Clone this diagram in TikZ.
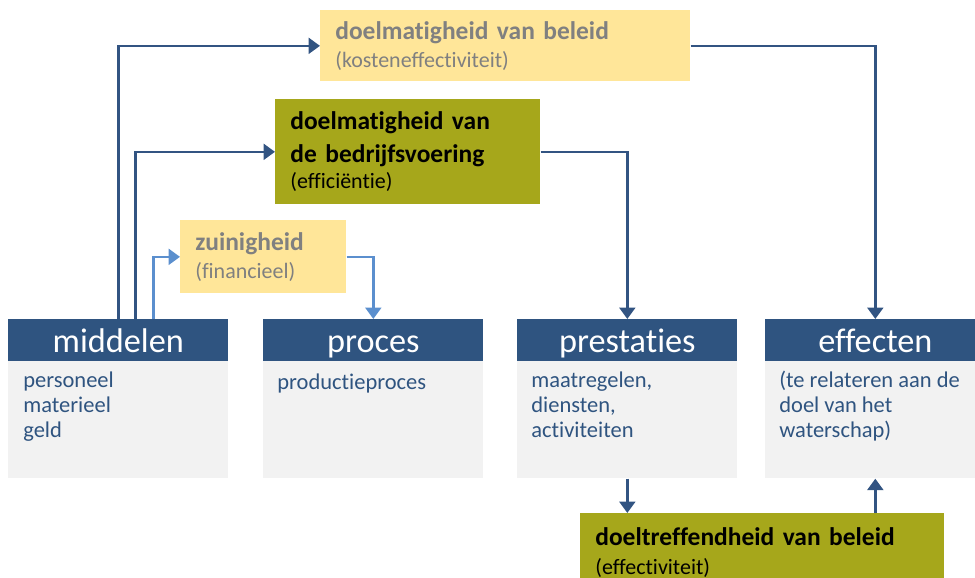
\documentclass[tikz,border=0pt]{standalone}
\usepackage{fontspec}
\setmainfont{Carlito}[Ligatures=NoCommon]
\usepackage{tikz}
\usetikzlibrary{arrows.meta, positioning}
\definecolor{headblue}{RGB}{47,84,128}
\definecolor{bodygray}{RGB}{242,242,242}
\definecolor{paleyellow}{RGB}{255,230,153}
\definecolor{olive}{RGB}{166,167,27}
\definecolor{labelgray}{RGB}{128,128,128}
\definecolor{darkarrow}{RGB}{50,84,130}
\definecolor{lightarrow}{RGB}{91,143,206}

\begin{document}
\begin{tikzpicture}[
    x=0.02cm, y=-0.02cm,
    head/.style={fill=headblue, text=white, anchor=north west, inner sep=0pt, minimum width=4.4cm, minimum height=0.84cm, text height=19pt, text depth=4.6pt, font=\fontsize{19.5}{22}\selectfont},
    body/.style={fill=bodygray, anchor=north west, inner sep=0pt, minimum width=4.4cm, minimum height=2.34cm},
    item/.style={anchor=base west, align=left, inner sep=0pt, text=headblue, font=\fontsize{12.8}{14.2}\selectfont},
    goal/.style={fill=#1, anchor=north west, inner xsep=0.3cm, inner ysep=0pt, align=left, font=\fontsize{14.5}{18.7}\selectfont},
    darrow/.style={-{Triangle[length=6.5pt, width=9pt]}, line width=1.5pt, draw=darkarrow},
    larrow/.style={-{Triangle[length=6.5pt, width=9pt]}, line width=1.5pt, draw=lightarrow}
]
    \useasboundingbox (0,0) rectangle (975,578);

    % Columns
    \node[head] (middelen) at (8,319) {middelen};
    \node[body] (midbody) at (8,361) {};
    \node[head] (proces) at (263,319) {proces};
    \node[body] (procbody) at (263,361) {};
    \node[head] (prestaties) at (517,319) {prestaties};
    \node[body] (prestbody) at (517,361) {};
    \node[head] (effecten) at (765,319) {effecten};
    \node[body] (effbody) at (765,361) {};

    % Contents (anchored at the last line)
    \node[item] (miditems) at (23,437) {personeel\\materieel\\geld};
    \node[item] (procitems) at (277,389) {productieproces};
    \node[item] (prestitems) at (531,437) {maatregelen,\\diensten,\\activiteiten};
    \node[item] (effitems) at (779,437) {(te relateren aan de\\doel van het\\waterschap)};

    % Criteria
    \node[goal=paleyellow, text=labelgray, text width=6.8cm, minimum height=1.42cm] (beleid) at (320,10)
        {\textbf{doelmatigheid van beleid}\\[-3pt]{\fontsize{12.5}{14}\selectfont (kosteneffectiviteit)}};
    \node[goal=olive, text=black, text width=4.7cm, minimum height=2.1cm] (bedrijf) at (275,99)
        {\textbf{doelmatigheid van}\\\textbf{de bedrijfsvoering}\\[-4pt]{\fontsize{12.5}{14}\selectfont (efficiëntie)}};
    \node[goal=paleyellow, text=labelgray, text width=2.72cm, minimum height=1.46cm] (zuinig) at (180,220)
        {\textbf{zuinigheid}\\[-3pt]{\fontsize{12.5}{14}\selectfont (financieel)}};
    \node[goal=olive, text=black, text width=6.68cm, minimum height=1.56cm] (doeltref) at (580,513)
        {\textbf{doeltreffendheid van beleid}\\[-2pt]{\fontsize{12.5}{14}\selectfont (effectiviteit)}};

    % Arrows
    \draw[darrow] (middelen.north) |- (beleid.west);
    \draw[darrow] ([xshift=0.34cm]middelen.north) |- (bedrijf.west);
    \draw[larrow] ([xshift=0.7cm]middelen.north) |- (zuinig.west);
    \draw[larrow] (zuinig.east) -| (proces.north);
    \draw[darrow] (bedrijf.east) -| (prestaties.north);
    \draw[darrow] (beleid.east) -| (effecten.north);
    \draw[darrow] (prestbody.south) -- (doeltref.north -| prestbody.south);
    \draw[darrow] (doeltref.north -| effbody.south) -- (effbody.south);
\end{tikzpicture}
\end{document}
